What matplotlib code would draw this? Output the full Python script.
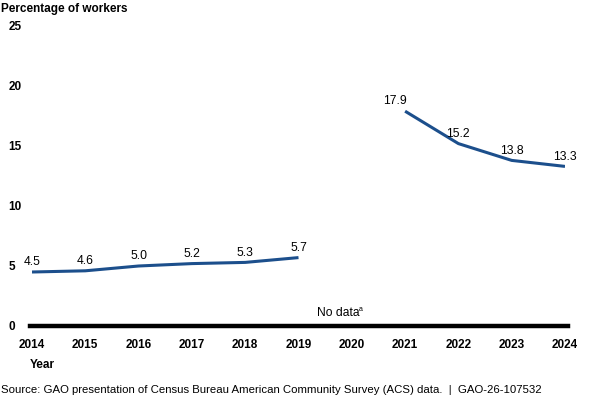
import matplotlib.pyplot as plt

plt.rcParams['font.family'] = ['Liberation Sans', 'DejaVu Sans']

years = [2014, 2015, 2016, 2017, 2018, 2019, 2020, 2021, 2022, 2023, 2024]
years_a = [2014, 2015, 2016, 2017, 2018, 2019]
pct_a = [4.5, 4.6, 5.0, 5.2, 5.3, 5.7]
years_b = [2021, 2022, 2023, 2024]
pct_b = [17.9, 15.2, 13.8, 13.3]
yticks = [0, 5, 10, 15, 20, 25]

blue = '#1c4f8c'

fig = plt.figure(figsize=(6, 4), dpi=100)
ax = fig.add_axes([32/600, 1 - 326/400, (565 - 32)/600, 300/400])

ax.plot(years_a, pct_a, color=blue, lw=2.2, solid_capstyle='butt')
ax.plot(years_b, pct_b, color=blue, lw=2.2, solid_capstyle='butt')

for x, y in zip(years_a, pct_a):
    ax.annotate(f'{y:.1f}', (x, y), xytext=(0, 7), textcoords='offset points',
                ha='center', va='center', fontsize=8.7)
for x, y in zip(years_b, pct_b):
    dx = -7 if x == 2021 else 0
    ax.annotate(f'{y:.1f}', (x, y), xytext=(dx, 7), textcoords='offset points',
                ha='center', va='center', fontsize=8.7)

ax.text(2019.75, 0.55, 'No data', ha='center', va='bottom', fontsize=8.7)
ax.text(2020.13, 1.1, 'a', ha='left', va='bottom', fontsize=5)

ax.axhline(0, xmin=-0.004, xmax=1.006, color='black', lw=3.2, clip_on=False)

ax.set_xlim(2014, 2024)
ax.set_ylim(0, 25)
ax.set_xticks(years)
ax.set_xticklabels([str(y) for y in years], fontweight='bold', fontsize=8.5)
ax.set_yticks(yticks)
ax.set_yticklabels([str(t) for t in yticks], fontweight='bold', fontsize=8.5, ha='left')
ax.tick_params(axis='y', length=0, pad=17)
ax.tick_params(axis='x', length=0, pad=9)
for s in ax.spines.values():
    s.set_visible(False)

fig.text(0.002, 0.978, 'Percentage of workers', fontweight='bold', fontsize=8.5, va='center')
fig.text(30/600, 1 - 365/400, 'Year', fontweight='bold', fontsize=8.5, va='center')
fig.text(0.002, 1 - 390/400,
         'Source: GAO presentation of Census Bureau American Community Survey (ACS) data.  |  GAO-26-107532',
         fontsize=8.2, va='center')

fig.savefig('out.png', dpi=100)
